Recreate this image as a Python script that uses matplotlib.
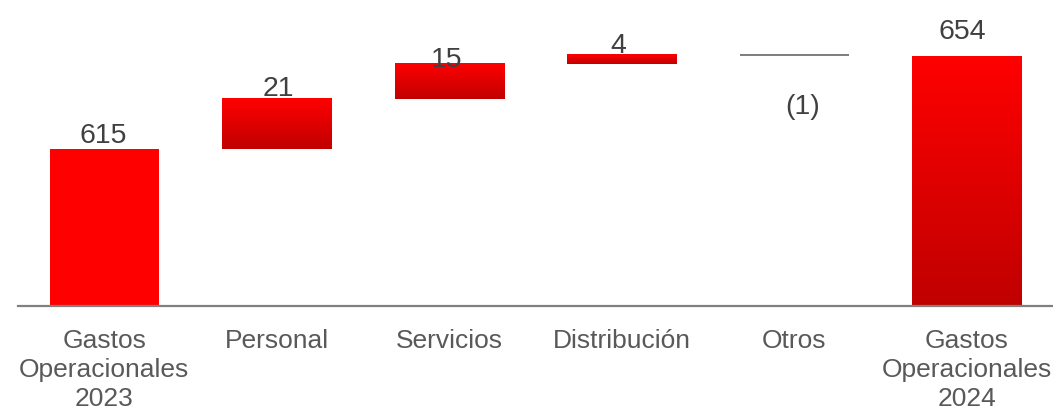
import numpy as np
import matplotlib.pyplot as plt
from matplotlib.colors import LinearSegmentedColormap

plt.rcParams['font.family'] = ['Liberation Sans', 'DejaVu Sans']

# waterfall data (millions)
categories = ["Gastos\nOperacionales\n2023", "Personal", "Servicios",
              "Distribución", "Otros", "Gastos\nOperacionales\n2024"]
start_total = 615
changes = [21, 15, 4, -1]
end_total = 654
value_labels = ["615", "21", "15", "4", "(1)", "654"]

# bottoms and tops for every step
bottoms = [0]
tops = [start_total]
running = start_total
for c in changes:
    bottoms.append(min(running, running + c))
    tops.append(max(running, running + c))
    running += c
bottoms.append(0)
tops.append(end_total)

fig = plt.figure(figsize=(10.53, 4.10), dpi=100)
ax = fig.add_axes([18 / 1053, 103 / 410, 1 - 18 / 1053, 307 / 410])
y_range = (549.3, 678.1)

red_grad = LinearSegmentedColormap.from_list("redgrad", ["#C00000", "#FF0000"])
grad = np.linspace(0, 1, 256).reshape(-1, 1)
width = 0.632

for i in range(len(categories)):
    lo = max(bottoms[i], y_range[0])
    hi = tops[i]
    x0, x1 = i - width / 2, i + width / 2
    if i == 0:
        ax.bar(i, hi - lo, width, bottom=lo, color="#FF0000", zorder=2)
    elif i == 4:
        # negative step shown as a thin grey bar
        ax.bar(i, hi - lo, width, bottom=lo, color="#808080", zorder=2)
    else:
        ax.imshow(grad, extent=[x0, x1, lo, hi], origin="lower", cmap=red_grad,
                  aspect="auto", zorder=2, interpolation="bilinear")

ax.set_xlim(-0.5, 5.5)
ax.set_ylim(*y_range)

# value labels (offsets in points)
offsets = [(-1, 5), (1, 3.2), (-1.5, -2), (-2.5, 1.5), (6, -41), (-3, 13)]
for i, (lab, off) in enumerate(zip(value_labels, offsets)):
    y = tops[i] if i != 4 else bottoms[i]
    ax.annotate(lab, (i, y), xytext=off, textcoords="offset points",
                ha="center", va="baseline", fontsize=20.5, color="#404040")

ax.set_xticks(range(len(categories)))
ax.set_xticklabels(categories, fontsize=19, color="#595959", linespacing=1.27)
ax.tick_params(axis="x", length=0, pad=16)
ax.set_yticks([])

for side in ["top", "right", "left"]:
    ax.spines[side].set_visible(False)
ax.spines["bottom"].set_color("#808080")
ax.spines["bottom"].set_linewidth(1.6)
ax.spines["bottom"].set_zorder(3)

fig.savefig("out.png", dpi=100)
